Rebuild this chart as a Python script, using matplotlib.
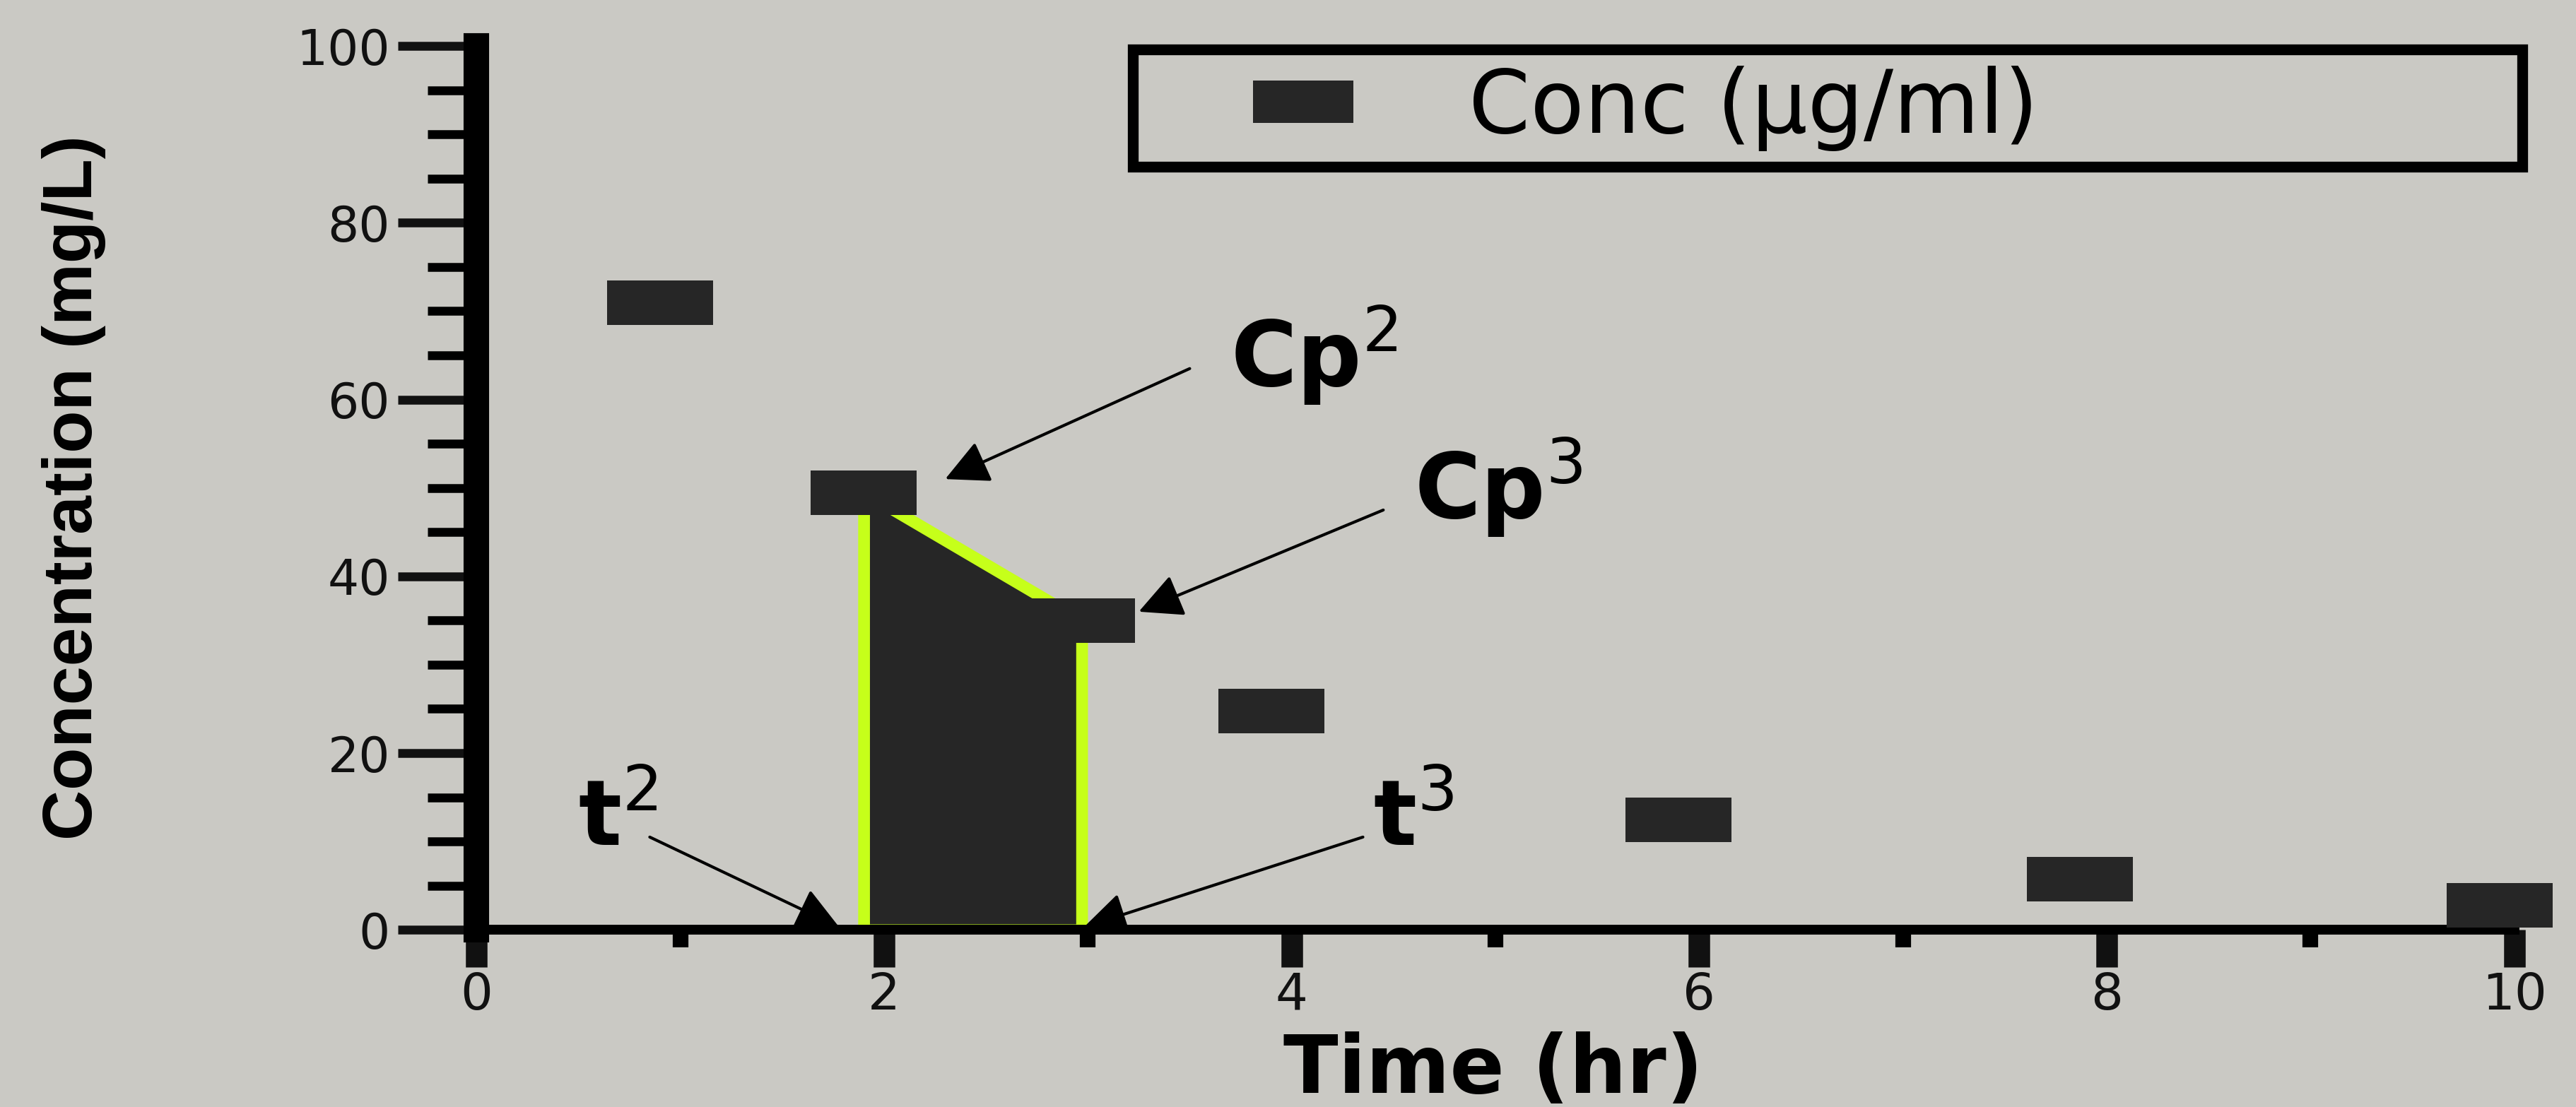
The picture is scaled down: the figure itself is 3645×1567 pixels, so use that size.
import matplotlib
matplotlib.use("Agg")
import matplotlib.pyplot as plt
from matplotlib.ticker import MultipleLocator

# Data
time_hr = [0.9, 1.9, 2.97, 3.9, 5.9, 7.87, 9.93]
conc = [71, 49.5, 35, 24.8, 12.5, 5.8, 2.8]
legend_label = "Conc (\u00b5g/ml)"
x_label = "Time (hr)"
y_label = "Concentration (mg/L)"
x_ticks = [0, 2, 4, 6, 8, 10]
y_ticks = [0, 20, 40, 60, 80, 100]

# annotations: (text, text_xy, arrow_start_xy, arrow_tip_xy)
notes = [
    ("Cp$^2$", (3.7, 61.5), (3.5, 63.5), (2.3, 51)),
    ("Cp$^3$", (4.6, 46.5), (4.45, 47.5), (3.25, 36)),
    ("t$^2$", (0.5, 9.5), (0.85, 10.5), (1.78, 0.3)),
    ("t$^3$", (4.4, 9.5), (4.35, 10.5), (2.98, 0.3)),
]

bg = "#cac9c4"
plt.rcParams['font.family'] = ['DejaVu Sans']
plt.rcParams['mathtext.fontset'] = 'dejavusans'

fig = plt.figure(figsize=(36.45, 15.67), dpi=100, facecolor=bg)
ax = fig.add_axes([0.185, 0.160, 0.791, 0.7985], facecolor=bg)

rect = [(-1, -0.42), (1, -0.42), (1, 0.42), (-1, 0.42), (-1, -0.42)]

ax.fill_between(time_hr[1:3], conc[1:3], 0, facecolor="#262626",
                edgecolor="#c6ff1a", linewidth=12, zorder=2)
ax.plot(time_hr, conc, linestyle="none", marker=rect, markersize=108,
        color="#262626", markeredgewidth=0, clip_on=False, zorder=3,
        label=legend_label)

ax.set_xlim(0, 10)
ax.set_ylim(0, 100)
ax.set_xticks(x_ticks)
ax.set_yticks(y_ticks)
ax.xaxis.set_minor_locator(MultipleLocator(1))
ax.yaxis.set_minor_locator(MultipleLocator(5))

for s in ["top", "right"]:
    ax.spines[s].set_visible(False)
ax.spines["left"].set_linewidth(26)
ax.spines["bottom"].set_linewidth(10)

ax.tick_params(axis="y", which="major", direction="out", length=80, width=9,
               labelsize=50, pad=8, colors="#111111")
ax.tick_params(axis="y", which="minor", direction="out", length=50, width=9)
ax.tick_params(axis="x", which="major", direction="out", length=38, width=22,
               labelsize=52, pad=4, colors="#111111")
ax.tick_params(axis="x", which="minor", direction="out", length=18, width=16)

ax.set_xlabel(x_label, fontsize=82, fontweight="bold")
ax.xaxis.set_label_coords(0.499, -0.115)
ax.set_ylabel(y_label, fontsize=71, fontweight="bold",
              family=['Liberation Sans', 'DejaVu Sans'])
ax.yaxis.set_label_coords(-0.182, 0.5)

for txt, xy_text, xy_start, xy_tip in notes:
    ax.annotate("", xy=xy_tip, xytext=xy_start,
                arrowprops=dict(arrowstyle="-|>", color="black", lw=3,
                                mutation_scale=95, shrinkA=0, shrinkB=0),
                zorder=4)
    ax.text(xy_text[0], xy_text[1], txt, fontsize=92, fontweight="bold",
            ha="left", va="baseline", color="black", zorder=5)

leg = ax.legend(loc="upper left", bbox_to_anchor=(0.322, 0.862, 0.682, 0.134),
                mode="expand", fontsize=90, frameon=True, fancybox=False,
                framealpha=1, markerscale=0.95, borderpad=0.18,
                handletextpad=0.12, handlelength=3.5, borderaxespad=0)
leg.get_frame().set_edgecolor("black")
leg.get_frame().set_linewidth(11)
leg.get_frame().set_facecolor(bg)

fig.savefig("out.png", dpi=100, facecolor=bg)
